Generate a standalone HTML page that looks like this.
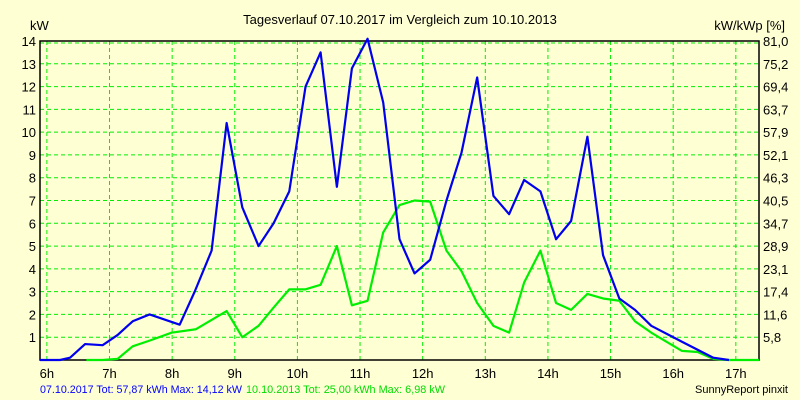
<!DOCTYPE html>
<html><head><meta charset="utf-8"><style>
body{margin:0;background:#ffffd4;}
svg{display:block;font-family:"Liberation Sans",sans-serif;}
</style></head><body>
<svg id="chart" width="800" height="400" viewBox="0 0 800 400">
<rect width="800" height="400" fill="#ffffd4"/>
<text x="400" y="24" font-size="13" text-anchor="middle">Tagesverlauf 07.10.2017 im Vergleich zum 10.10.2013</text>
<text x="30" y="30" font-size="13">kW</text>
<text x="785" y="30" font-size="13" text-anchor="end">kW/kWp [%]</text>
<g id="grid"></g><g id="axes"></g><g id="series"></g>
<text x="40" y="393" font-size="11" fill="#0000ff" textLength="202" lengthAdjust="spacingAndGlyphs">07.10.2017 Tot: 57,87 kWh Max: 14,12 kW</text>
<text x="246" y="393" font-size="11" fill="#00dd00" textLength="199" lengthAdjust="spacingAndGlyphs">10.10.2013 Tot: 25,00 kWh Max: 6,98 kW</text>
<text x="788" y="393" font-size="11" text-anchor="end">SunnyReport pinxit</text>
</svg>
<script>
const hourTicks=[6,7,8,9,10,11,12,13,14,15,16,17];
const kwTicks=[1,2,3,4,5,6,7,8,9,10,11,12,13,14];
const pctTicks=["5,8","11,6","17,4","23,1","28,9","34,7","40,5","46,3","52,1","57,9","63,7","69,4","75,2","81,0"];
const times2017=[5.89,6.21,6.37,6.61,6.89,7.13,7.37,7.64,8.12,8.36,8.63,8.87,9.12,9.38,9.62,9.87,10.13,10.37,10.63,10.87,11.12,11.37,11.63,11.87,12.12,12.38,12.62,12.87,13.13,13.38,13.62,13.88,14.13,14.37,14.63,14.88,15.14,15.39,15.65,16.14,16.64,16.89];
const values2017=[0,0,0.1,0.7,0.65,1.1,1.7,2.0,1.55,3.0,4.8,10.4,6.7,5.0,6.0,7.4,12.0,13.5,7.6,12.8,14.1,11.3,5.3,3.8,4.4,7.0,9.1,12.4,7.2,6.4,7.9,7.4,5.3,6.1,9.8,4.6,2.7,2.2,1.5,0.8,0.1,0];
const times2013=[6.63,6.89,7.13,7.37,7.64,7.99,8.38,8.87,9.12,9.38,9.62,9.87,10.13,10.37,10.63,10.87,11.12,11.37,11.63,11.87,12.12,12.38,12.62,12.87,13.13,13.38,13.62,13.88,14.13,14.37,14.63,14.88,15.14,15.39,15.65,16.14,16.39,16.64,16.89,17.37];
const values2013=[0,0,0.05,0.6,0.85,1.2,1.35,2.15,1.0,1.5,2.3,3.1,3.1,3.3,5.0,2.4,2.6,5.6,6.8,7.0,6.95,4.8,3.9,2.5,1.5,1.2,3.4,4.8,2.5,2.2,2.9,2.7,2.6,1.7,1.2,0.4,0.35,0.05,0,0];
const L=40,R=759,T=41,B=360,H0=5.89,H1=17.37,KMAX=14;
const X=h=>L+(h-H0)/(H1-H0)*(R-L);
const Y=v=>B-v/KMAX*(B-T);
const NS="http://www.w3.org/2000/svg";
function mk(tag,parent,attrs){const e=document.createElementNS(NS,tag);for(const k in attrs)e.setAttribute(k,attrs[k]);parent.appendChild(e);return e;}
const grid=document.getElementById('grid'),axes=document.getElementById('axes'),ser=document.getElementById('series');
hourTicks.forEach(h=>{
 const l=mk('line',grid,{x1:X(h),x2:X(h),y1:T,y2:B,stroke:'#00ee00','stroke-dasharray':'4,3','stroke-width':1});
 
 
 const t=mk('text',axes,{x:X(h),y:378,'font-size':13,'text-anchor':'middle'});t.textContent=h+'h';
 
 
});
kwTicks.forEach((v,i)=>{
 const y=Y(v)+(v===14?2:0);
 const l=mk('line',grid,{x1:L,x2:R,y1:y,y2:y,stroke:'#00ee00','stroke-dasharray':'4,3','stroke-width':1});
 
 
 const t=mk('text',axes,{x:36,y:Y(v)+5,'font-size':13,'text-anchor':'end'});t.textContent=v;
 
 
 const t2=mk('text',axes,{x:763,y:Y(v)+5,'font-size':13});t2.textContent=pctTicks[i];
 
 
});
const ax=mk('path',axes,{d:`M${L},${T}H${R}V${B}H${L}Z`,fill:'none',stroke:'#000','stroke-width':1.5});


function line(ts,vs,color,name){
 const p=mk('polyline',ser,{points:ts.map((t,i)=>X(t)+','+Y(vs[i])).join(' '),fill:'none',stroke:color,'stroke-width':2.2,'stroke-linejoin':'round'});
 
 
}
line(times2013,values2013,'#00ee00','series-2013-line');
line(times2017,values2017,'#0000ee','series-2017-line');
</script>
</body></html>
